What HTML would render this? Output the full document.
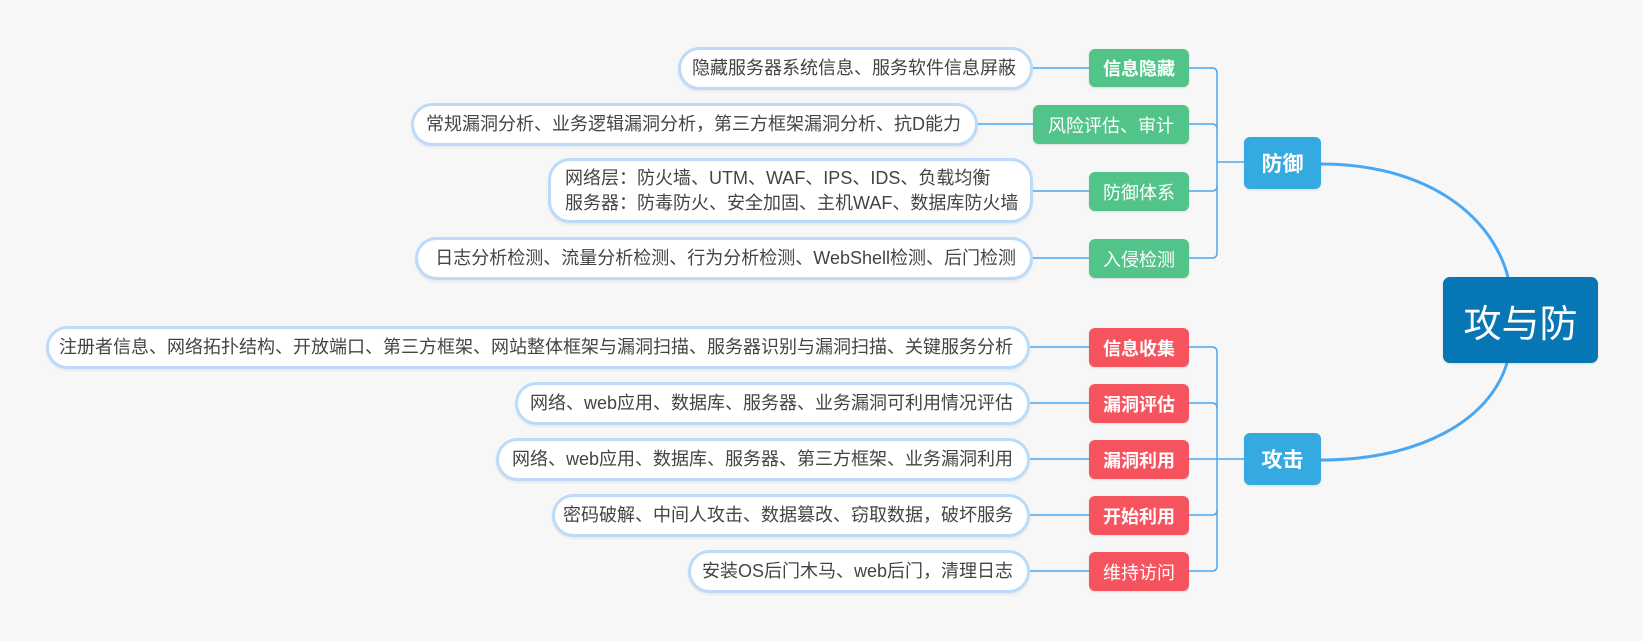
<!DOCTYPE html>
<html><head><meta charset="utf-8"><style>
body{margin:0;width:1643px;height:641px;background:#f7f7f7;position:relative;overflow:hidden;font-family:"Liberation Sans","Noto Sans CJK SC",sans-serif}
.w{position:absolute;box-sizing:border-box;background:#fff;border:3px solid #bcdaf9;border-radius:22px;color:#444;font-size:18px;text-align:right;padding-right:14px;display:flex;flex-direction:column;justify-content:center;align-items:flex-end;line-height:25px;white-space:nowrap;box-shadow:0 2px 2px rgba(0,0,0,.06)}
.l{position:absolute;box-sizing:border-box;border-radius:6px;color:#fff;font-size:18px;display:flex;align-items:center;justify-content:center;white-space:nowrap;box-shadow:0 1px 2px rgba(0,0,0,.12)}
.g{background:#52c48a}.r{background:#f5545f}.b{background:#35aae0;font-size:21px;font-weight:bold}
.bold{font-weight:bold}
</style></head><body>
<svg width="1643" height="641" style="position:absolute;left:0;top:0">
<g stroke="#4aa8f3" stroke-width="1.5" fill="none">
<line x1="1033" y1="68" x2="1089" y2="68"/>
<line x1="978" y1="124" x2="1033" y2="124"/>
<line x1="1033" y1="191" x2="1089" y2="191"/>
<line x1="1033" y1="258" x2="1089" y2="258"/>
<path d="M1189 68 H1212 Q1217 68 1217 73 V253 Q1217 258 1212 258 H1189"/>
<path d="M1189 124 H1212 Q1217 124 1217 129"/>
<path d="M1189 191 H1212 Q1217 191 1217 186"/>
<line x1="1217" y1="162" x2="1244" y2="162"/>
<line x1="1030" y1="347" x2="1089" y2="347"/>
<line x1="1030" y1="403" x2="1089" y2="403"/>
<line x1="1030" y1="459" x2="1089" y2="459"/>
<line x1="1030" y1="515" x2="1089" y2="515"/>
<line x1="1030" y1="571" x2="1089" y2="571"/>
<path d="M1189 347 H1212 Q1217 347 1217 352 V566 Q1217 571 1212 571 H1189"/>
<path d="M1189 403 H1212 Q1217 403 1217 408"/>
<path d="M1189 515 H1212 Q1217 515 1217 510"/>
<line x1="1189" y1="459" x2="1244" y2="459"/>
</g>
<g stroke="#4aa8f3" stroke-width="3" fill="none">
<path d="M1321 164 C1420 164 1490 210 1508 277"/>
<path d="M1321 460 C1420 460 1490 420 1507 363"/>
</g>
</svg>

<div class="w" style="left:678px;top:47px;width:355px;height:43px">隐藏服务器系统信息、服务软件信息屏蔽</div>
<div class="w" style="left:411px;top:103px;width:567px;height:43px">常规漏洞分析、业务逻辑漏洞分析，第三方框架漏洞分析、抗D能力</div>
<div class="w" style="left:548px;top:158px;width:485px;height:65px;align-items:flex-start;padding-left:14px"><div>网络层：防火墙、UTM、WAF、IPS、IDS、负载均衡</div><div>服务器：防毒防火、安全加固、主机WAF、数据库防火墙</div></div>
<div class="w" style="left:415px;top:237px;width:618px;height:43px">日志分析检测、流量分析检测、行为分析检测、WebShell检测、后门检测</div>

<div class="w" style="left:46px;top:326px;width:984px;height:43px">注册者信息、网络拓扑结构、开放端口、第三方框架、网站整体框架与漏洞扫描、服务器识别与漏洞扫描、关键服务分析</div>
<div class="w" style="left:515px;top:382px;width:515px;height:43px">网络、web应用、数据库、服务器、业务漏洞可利用情况评估</div>
<div class="w" style="left:496px;top:438px;width:534px;height:43px">网络、web应用、数据库、服务器、第三方框架、业务漏洞利用</div>
<div class="w" style="left:552px;top:494px;width:478px;height:43px">密码破解、中间人攻击、数据篡改、窃取数据，破坏服务</div>
<div class="w" style="left:688px;top:550px;width:342px;height:43px">安装OS后门木马、web后门，清理日志</div>

<div class="l g bold" style="left:1089px;top:49px;width:100px;height:38px">信息隐藏</div>
<div class="l g" style="left:1033px;top:105px;width:156px;height:39px">风险评估、审计</div>
<div class="l g" style="left:1089px;top:172px;width:100px;height:39px">防御体系</div>
<div class="l g" style="left:1089px;top:239px;width:100px;height:39px">入侵检测</div>

<div class="l r bold" style="left:1089px;top:328px;width:100px;height:39px">信息收集</div>
<div class="l r bold" style="left:1089px;top:384px;width:100px;height:39px">漏洞评估</div>
<div class="l r bold" style="left:1089px;top:440px;width:100px;height:39px">漏洞利用</div>
<div class="l r bold" style="left:1089px;top:496px;width:100px;height:39px">开始利用</div>
<div class="l r" style="left:1089px;top:552px;width:100px;height:39px">维持访问</div>

<div class="l b" style="left:1244px;top:137px;width:77px;height:52px">防御</div>
<div class="l b" style="left:1244px;top:433px;width:77px;height:52px">攻击</div>

<div class="l" style="left:1443px;top:277px;width:155px;height:86px;background:#0776b4;font-size:38px;border-radius:7px">攻与防</div>
</body></html>
